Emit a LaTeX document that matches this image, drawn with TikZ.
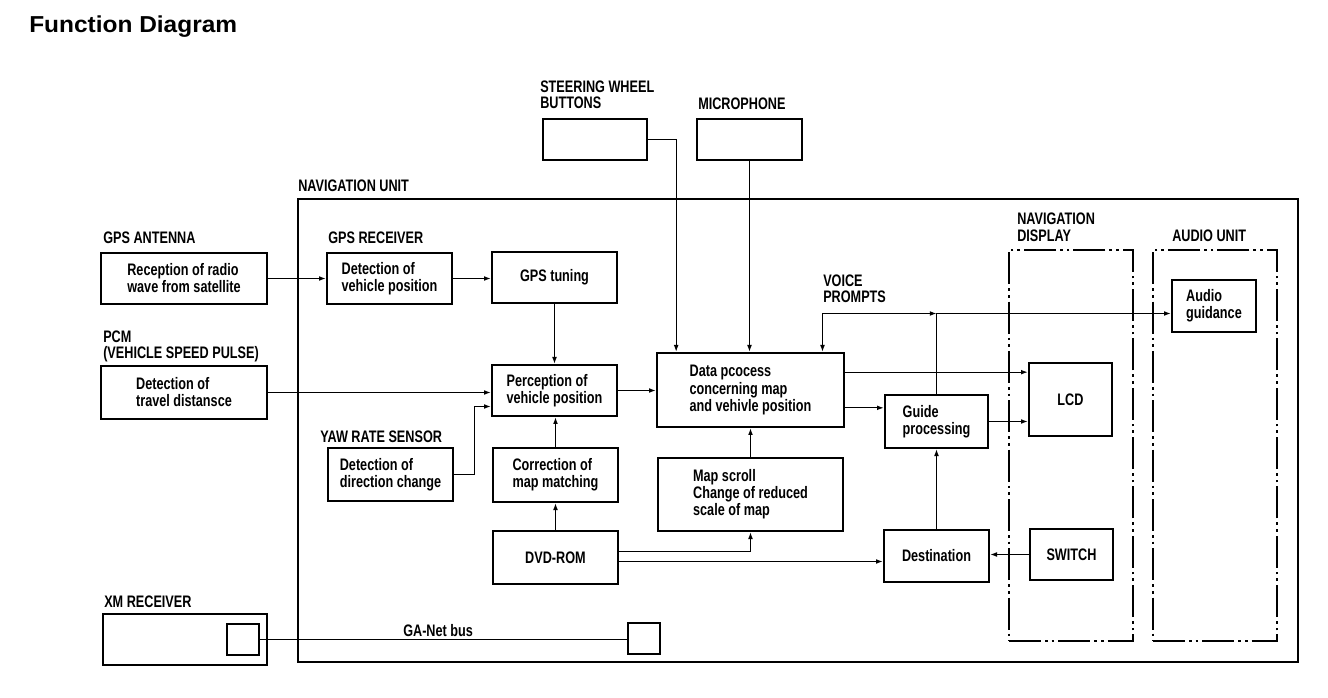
\documentclass[tikz,border=0pt]{standalone}
\usepackage{fontspec}
\usetikzlibrary{arrows.meta,calc}
\newfontfamily\condfont[FakeStretch=0.76]{Liberation Sans}
\newfontfamily\titlefont[FakeStretch=1.06]{Liberation Sans}
\newcommand\bxfont{\condfont\bfseries\fontsize{12.5pt}{12.8pt}\selectfont}
\newcommand\ttlfont{\titlefont\bfseries\fontsize{17.3pt}{20pt}\selectfont}
\begin{document}
\begin{tikzpicture}[x=0.75pt,y=-0.75pt,
  corners/.style args={#1/#2/#3/#4}{minimum width={(#3-#1)*0.75pt},
    minimum height={(#4-#2)*0.75pt}, at={({(#1+#3)/2},{(#2+#4)/2})}},
  box/.style={draw, line width=2pt, inner sep=0pt, align=left, font=\bxfont, corners=#1},
  frame/.style={draw, line width=2pt, inner sep=0pt, corners=#1},
  chainbox/.style={draw, line width=2pt, inner sep=0pt, corners=#1,
    dash pattern=on 24pt off 3pt on 2pt off 3pt on 2pt off 3pt},
  lbl/.style={font=\bxfont, anchor=base west, inner sep=0pt},
  conn/.style={line width=0.75pt, -{Latex[length=5pt,width=3.6pt]}},
  wire/.style={line width=0.75pt}]
\useasboundingbox (0,0) rectangle (1328,698);

% title
\node[font=\ttlfont, anchor=base west, inner sep=0pt] (title) at (29,33) {Function Diagram};

% frames
\node[frame={298/199/1298/662}] (nav) {};
\node[chainbox={1009/250/1133/641}] (navdisp) {};
\node[chainbox={1153/250/1277/641}] (audunit) {};

% labels
\node[lbl] (lnav) at (298,192) {NAVIGATION UNIT};
\node[lbl] (lant) at (103,244) {GPS ANTENNA};
\node[lbl] (lrec) at (328,244) {GPS RECEIVER};
\node[lbl] (lpcm1) at (103,343) {PCM};
\node[lbl] (lpcm2) at (103,359) {(VEHICLE SPEED PULSE)};
\node[lbl] (lyaw) at (320,442) {YAW RATE SENSOR};
\node[lbl] (lswb1) at (540,93) {STEERING WHEEL};
\node[lbl] (lswb2) at (540,109) {BUTTONS};
\node[lbl] (lmic) at (698,110) {MICROPHONE};
\node[lbl] (lvp1) at (823,287) {VOICE};
\node[lbl] (lvp2) at (823,303) {PROMPTS};
\node[lbl] (lnd1) at (1017,225) {NAVIGATION};
\node[lbl] (lnd2) at (1017,242) {DISPLAY};
\node[lbl] (lau) at (1172,242) {AUDIO UNIT};
\node[lbl] (lxm) at (104,607) {XM RECEIVER};
\node[lbl] (lga) at (403,636) {GA-Net bus};

% boxes
\node[box={101/253/267/304}] (ant) {Reception of radio\\wave from satellite};
\node[box={327/253/452/304}] (gdet) {Detection of\\vehicle position};
\node[box={492/252/617/303}] (gtun) {GPS tuning};
\node[box={101/366/267/419}] (pcm) {Detection of\\travel distansce};
\node[box={492/365/617/416}] (perc) {Perception of\\vehicle position};
\node[box={328/448/453/501}] (yaw) {Detection of\\direction change};
\node[box={493/448/618/502}] (corr) {Correction of\\map matching};
\node[box={493/531/618/584}] (dvd) {DVD-ROM};
\node[box={543/119/647/160}] (swb) {};
\node[box={697/119/802/160}] (mic) {};
\node[box={657/353/844/427}] (data) {Data pcocess\\concerning map\\and vehivle position};
\node[box={658/458/843/531}] (map) {Map scroll\\Change of reduced\\scale of map};
\node[box={885/395/988/448}] (guide) {Guide\\processing};
\node[box={884/530/989/582}] (dest) {Destination};
\node[box={1029/363/1112/436}] (lcd) {LCD};
\node[box={1030/529/1113/580}] (sw) {SWITCH};
\node[box={1172/280/1256/332}] (aud) {Audio\\guidance};
\node[box={103/614/267/665}] (xm) {};
\node[box={227/624/259/655}] (xsq) {};
\node[box={628/623/660/654}] (nsq) {};

% connectors
\draw[conn] (ant.east) -- (ant.east -| gdet.west);
\draw[conn] (gdet.east) -- (gdet.east -| gtun.west);
\draw[conn] (gtun.south) -- (gtun.south |- perc.north);
\draw[conn] (pcm.east) -- (pcm.east -| perc.west);
\draw[conn] (yaw.east) -- ++(20.5,0) |- ($(perc.west)+(0,16)$);
\draw[conn] (corr.north) -- (corr.north |- perc.south);
\draw[conn] (dvd.north) -- (dvd.north |- corr.south);
\draw[conn] (perc.east) -- (perc.east -| data.west);
\draw[conn] (swb.east) -| ($(data.north west)+(20.5,0)$);
\draw[conn] (mic.south) -- (mic.south |- data.north);
\coordinate (vp) at (822.5,313.5);
\draw[conn] (vp) -- (vp |- data.north);
\draw[conn] (vp) -- (vp -| guide.north);
\draw[wire] (guide.north) -- (guide.north |- vp);
\draw[conn] (vp -| guide.north) -- (vp -| aud.west);
\draw[conn] ($(data.north east)+(0,20.5)$) coordinate (d1) -- (d1 -| lcd.west);
\draw[conn] ($(data.south east)+(0,-20.5)$) coordinate (d2) -- (d2 -| guide.west);
\draw[conn] (guide.east) -- (guide.east -| lcd.west);
\draw[conn] (map.north) -- (map.north |- data.south);
\draw[conn] ($(dvd.east)+(0,-6)$) -| (map.south);
\draw[conn] ($(dvd.east)+(0,4)$) coordinate (d3) -- (d3 -| dest.west);
\draw[conn] (dest.north) -- (dest.north |- guide.south);
\draw[conn] (sw.west) -- (sw.west -| dest.east);
\draw[wire] (xsq.east) -- (xsq.east -| nsq.west);
\end{tikzpicture}
\end{document}
